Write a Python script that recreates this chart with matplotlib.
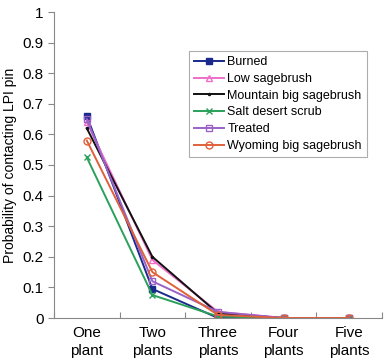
import matplotlib
matplotlib.use("Agg")
import matplotlib.pyplot as plt

categories = ["One\nplant", "Two\nplants", "Three\nplants", "Four\nplants", "Five\nplants"]
burned = [0.66, 0.095, 0.0, 0.0, 0.0]
low_sage = [0.64, 0.19, 0.02, 0.0, 0.0]
mountain = [0.62, 0.20, 0.015, 0.0, 0.0]
salt_desert = [0.525, 0.075, 0.005, 0.0, 0.0]
treated = [0.65, 0.12, 0.02, 0.0, 0.0]
wyoming = [0.58, 0.15, 0.01, 0.0, 0.0]

series = [
    ("Burned", burned, "#1a2a8c", "s", True),
    ("Low sagebrush", low_sage, "#f06ec8", "^", False),
    ("Mountain big sagebrush", mountain, "#111111", ".", True),
    ("Salt desert scrub", salt_desert, "#2aa05a", "x", True),
    ("Treated", treated, "#9a62c8", "s", False),
    ("Wyoming big sagebrush", wyoming, "#e0603a", "o", False),
]

plt.rcParams['font.family'] = ['Liberation Sans', 'DejaVu Sans']
fig = plt.figure(figsize=(3.84, 3.61), dpi=100)
ax = fig.add_axes([54 / 384, 43 / 361, 328 / 384, 306 / 361])

x = [i + 0.5 for i in range(len(categories))]
for name, vals, col, mk, filled in series:
    ms = 3 if mk == "." else 5
    ax.plot(x, vals, "-", color=col, lw=1.4, marker=mk, ms=ms,
            mfc=col if filled else "none", mec=col, mew=1.0, label=name)

ax.set_xlim(0, 5)
ax.set_ylim(0, 1)
ax.set_yticks([i / 10 for i in range(11)])
ax.set_yticklabels(["0"] + [f"{i / 10:.1f}" for i in range(1, 10)] + ["1"])
ax.set_xticks(range(6))
ax.set_xticklabels([])
ax.set_xticks(x, minor=True)
ax.set_xticklabels(categories, minor=True, fontsize=11, linespacing=1.35)
ax.tick_params(axis="x", which="minor", length=0, pad=6)
ax.tick_params(axis="x", which="major", length=4, direction="in", color="#888888")
ax.tick_params(axis="y", length=4, direction="out", labelsize=11, color="#888888")
for s in ["top", "right"]:
    ax.spines[s].set_visible(False)
for s in ["left", "bottom"]:
    ax.spines[s].set_color("#888888")
ax.set_ylabel("Probability of contacting LPI pin", fontsize=10)

leg = ax.legend(loc="upper right", bbox_to_anchor=(0.954, 0.872), borderaxespad=0,
                fontsize=9, frameon=True, fancybox=False, edgecolor="#999999",
                handlelength=2.4, borderpad=0.4, labelspacing=0.38, handletextpad=0.25)
leg.get_frame().set_linewidth(0.8)

fig.savefig("out.png", dpi=100)
